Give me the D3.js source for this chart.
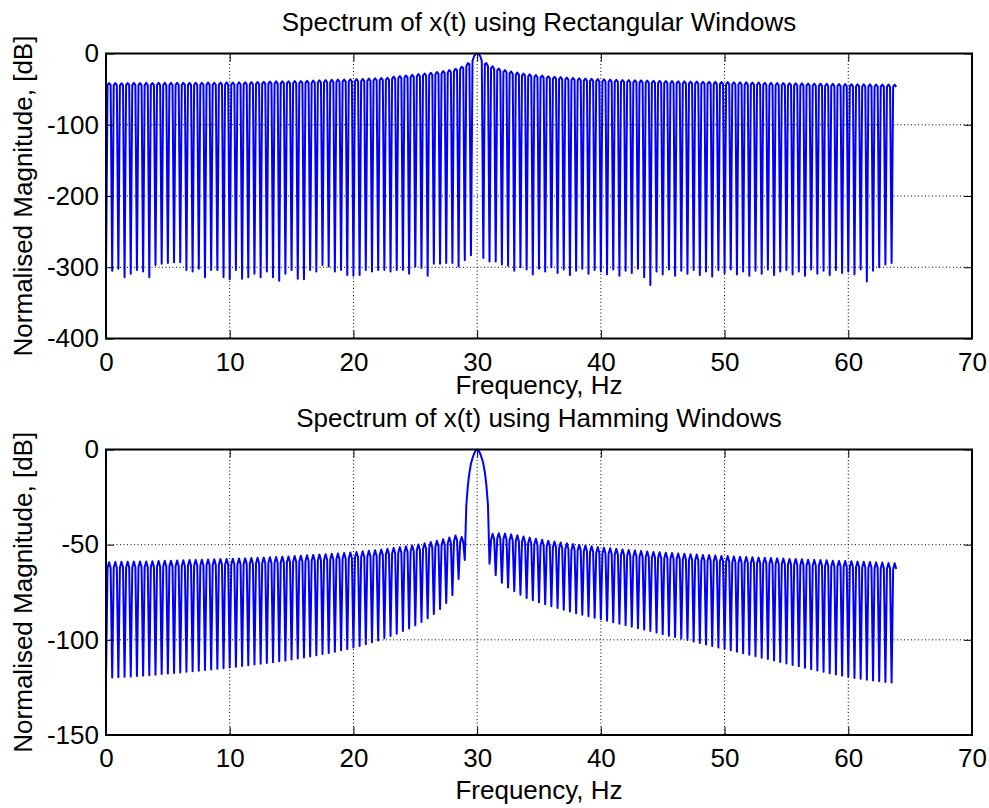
<!DOCTYPE html>
<html>
<head>
<meta charset="utf-8">
<script src="https://cdn.jsdelivr.net/npm/d3@7"></script>
<style>
  body { margin: 0; background: #fff; }
  svg text { font-family: "Liberation Sans", Arial, sans-serif; font-size: 26px; fill: #000; }
</style>
</head>
<body>
<svg id="fig" width="989" height="808"></svg>
<script>
// FFT bin spacing of both spectra (Hz); bin k sits at k * binStepHz
const binStepHz = 0.125;

const xTicks = [0, 10, 20, 30, 40, 50, 60, 70];
const rectYTicks = [0, -100, -200, -300, -400];
const hammYTicks = [0, -50, -100, -150];

const rectTitle = "Spectrum of x(t) using Rectangular Windows";
const hammTitle = "Spectrum of x(t) using Hamming Windows";
const xLabel = "Frequency, Hz";
const yLabel = "Normalised Magnitude,  [dB]";

// Rectangular window spectrum in dB, one value per bin (32 bins = 4 Hz per row)
const rectDb = [
  -311,-44.5,-41.5,-44.5, -305,-44.5,-41.5,-44.5, -302,-44.8,-41.8,-44.8, -314,-44.5,-41.5,-44.5, -309,-44.3,-41.3,-44.3, -304,-44.5,-41.5,-44.5, -306,-44.3,-41.3,-44.3, -314,-44.5,-41.5,-44.5,
  -297,-44.2,-41.2,-44.2, -295,-44.3,-41.3,-44.3, -294,-44.2,-41.2,-44.2, -293,-44.0,-41.0,-44.0, -293,-44.0,-41.0,-44.0, -304,-44.3,-41.3,-44.3, -306,-44.0,-41.0,-44.0, -302,-44.0,-41.0,-44.0,
  -314,-43.8,-40.8,-43.8, -304,-44.0,-41.0,-44.0, -304,-43.8,-40.8,-43.8, -314,-43.6,-40.6,-43.6, -317,-43.7,-40.7,-43.7, -304,-43.5,-40.5,-43.5, -316,-43.3,-40.3,-43.3, -314,-43.2,-40.2,-43.2,
  -309,-43.0,-40.0,-43.0, -314,-42.6,-39.6,-42.6, -306,-42.3,-39.3,-42.3, -314,-42.2,-39.2,-42.2, -319,-42.0,-39.0,-42.0, -309,-41.9,-38.9,-41.9, -304,-41.8,-38.8,-41.8, -316,-41.6,-38.6,-41.6,
  -317,-41.3,-38.3,-41.3, -304,-41.0,-38.0,-41.0, -306,-40.7,-37.7,-40.7, -297,-40.4,-37.4,-40.4, -299,-40.0,-37.0,-40.0, -306,-39.7,-36.7,-39.7, -304,-39.5,-36.5,-39.5, -311,-39.2,-36.2,-39.2,
  -312,-39.0,-36.0,-39.0, -311,-38.7,-35.7,-38.7, -304,-38.3,-35.3,-38.3, -306,-37.8,-34.8,-37.8, -304,-37.4,-34.4,-37.4, -304,-37.0,-34.0,-37.0, -306,-35.5,-32.5,-35.5, -304,-34.8,-31.7,-34.6,
  -304,-33.9,-30.8,-33.7, -309,-33.0,-29.9,-32.8, -299,-32.1,-29.0,-31.9, -301,-31.1,-28.0,-30.9, -312,-30.2,-27.0,-29.9, -295,-29.1,-25.9,-28.8, -295,-28.0,-24.7,-27.6, -294,-26.6,-23.2,-26.1,
  -294,-24.8,-21.4,-23.8, -299,-22.0,-18.5,-20.3, -290,-17.8,-13.5,-14.9, -283,-10.5,-3.9,-0.9, 0,-0.9,-3.9,-10.5, -287,-14.9,-13.5,-17.8, -292,-20.3,-18.0,-21.8, -292,-23.8,-21.0,-24.5,
  -296,-26.1,-23.3,-26.6, -298,-28.0,-25.2,-28.4, -305,-29.6,-26.8,-30.0, -300,-30.9,-28.1,-31.3, -303,-32.0,-29.2,-32.3, -310,-33.0,-30.2,-33.3, -302,-33.9,-31.1,-34.2, -306,-34.8,-31.9,-35.0,
  -300,-35.5,-32.6,-35.7, -308,-36.1,-33.2,-36.3, -303,-36.7,-33.8,-36.9, -311,-37.2,-34.3,-37.4, -305,-37.7,-34.8,-37.9, -302,-38.1,-35.2,-38.3, -309,-38.5,-35.6,-38.7, -304,-38.9,-36.0,-39.1,
  -306,-39.3,-36.3,-39.3, -310,-39.6,-36.6,-39.6, -303,-39.9,-36.9,-39.9, -312,-40.2,-37.2,-40.2, -305,-40.4,-37.4,-40.4, -308,-40.6,-37.6,-40.6, -302,-40.8,-37.8,-40.8, -314,-41.0,-38.0,-41.0,
  -325,-41.2,-38.2,-41.2, -306,-41.4,-38.4,-41.4, -310,-41.6,-38.6,-41.6, -303,-41.8,-38.8,-41.8, -312,-42.0,-39.0,-42.0, -305,-42.1,-39.1,-42.1, -309,-42.3,-39.3,-42.3, -304,-42.4,-39.4,-42.4,
  -311,-42.6,-39.6,-42.6, -306,-42.7,-39.7,-42.7, -313,-42.9,-39.9,-42.9, -304,-43.0,-40.0,-43.0, -308,-43.2,-40.2,-43.2, -303,-43.3,-40.3,-43.3, -310,-43.5,-40.5,-43.5, -306,-43.6,-40.6,-43.6,
  -312,-43.8,-40.8,-43.8, -305,-43.9,-40.9,-43.9, -309,-44.1,-41.1,-44.1, -303,-44.2,-41.2,-44.2, -311,-44.4,-41.4,-44.4, -306,-44.5,-41.5,-44.5, -304,-44.7,-41.7,-44.7, -310,-44.8,-41.8,-44.8,
  -306,-45.0,-42.0,-45.0, -312,-45.1,-42.1,-45.1, -303,-45.3,-42.3,-45.3, -309,-45.4,-42.4,-45.4, -305,-45.6,-42.6,-45.6, -311,-45.7,-42.7,-45.7, -304,-45.9,-42.9,-45.9, -308,-46.0,-43.0,-46.0,
  -306,-46.1,-43.1,-46.1, -310,-46.2,-43.2,-46.2, -303,-46.3,-43.3,-46.3, -320,-46.4,-43.4,-46.4, -305,-46.5,-43.5,-46.5, -300,-46.6,-43.6,-46.6, -296,-46.7,-43.7,-46.7, -294,-46.8,-43.8,-46.8
];

// Hamming window spectrum in dB, same bins
const hammDb = [
  -120.0,-62.2,-59.2,-62.2, -119.8,-62.1,-59.1,-62.1, -119.6,-62.0,-59.0,-62.0, -119.4,-62.0,-59.0,-62.0, -119.2,-61.9,-58.9,-61.9, -119.0,-61.8,-58.8,-61.8, -118.8,-61.8,-58.8,-61.8, -118.6,-61.7,-58.7,-61.7,
  -118.3,-61.6,-58.6,-61.6, -118.0,-61.5,-58.5,-61.5, -117.7,-61.4,-58.4,-61.4, -117.4,-61.3,-58.3,-61.3, -117.1,-61.2,-58.2,-61.2, -116.8,-61.1,-58.1,-61.1, -116.5,-61.0,-58.0,-61.0, -116.2,-60.9,-57.9,-60.9,
  -115.9,-60.8,-57.8,-60.8, -115.6,-60.7,-57.7,-60.7, -115.2,-60.6,-57.6,-60.6, -114.9,-60.5,-57.5,-60.5, -114.5,-60.4,-57.4,-60.4, -114.1,-60.3,-57.3,-60.3, -113.8,-60.2,-57.2,-60.2, -113.4,-60.0,-57.0,-60.0,
  -113.0,-59.9,-56.9,-59.9, -112.6,-59.8,-56.8,-59.8, -112.2,-59.6,-56.6,-59.6, -111.8,-59.5,-56.5,-59.5, -111.3,-59.3,-56.3,-59.3, -110.8,-59.2,-56.2,-59.2, -110.3,-59.0,-56.0,-59.0, -109.8,-58.8,-55.8,-58.8,
  -109.3,-58.6,-55.6,-58.6, -108.7,-58.4,-55.4,-58.4, -108.1,-58.2,-55.2,-58.2, -107.5,-58.0,-55.0,-58.0, -106.9,-57.8,-54.8,-57.8, -106.2,-57.6,-54.6,-57.6, -105.5,-57.4,-54.4,-57.4, -104.8,-57.1,-54.1,-57.1,
  -104.0,-56.8,-53.8,-56.8, -103.2,-56.5,-53.5,-56.5, -102.3,-56.2,-53.2,-56.2, -101.3,-55.9,-52.9,-55.9, -100.3,-55.5,-52.5,-55.5, -99.2,-55.1,-52.1,-55.1, -98.0,-54.7,-51.7,-54.7, -96.8,-54.3,-51.3,-54.3,
  -95.4,-53.9,-50.9,-53.9, -94.0,-53.4,-50.4,-53.4, -92.4,-52.9,-49.9,-52.9, -90.6,-52.3,-49.3,-52.3, -88.6,-51.6,-48.6,-51.6, -86.4,-50.9,-47.9,-50.9, -83.8,-50.2,-47.1,-50.0, -80.6,-49.4,-46.2,-49.0,
  -76.5,-48.4,-45.2,-47.6, -68.0,-48.8,-46.0,-48.6, -58.0,-29.3,-18.9,-12.2, -7.4,-4.6,-2.2,-0.6, 0,-0.6,-2.2,-4.6, -7.4,-12.2,-18.9,-29.3, -60.0,-47.5,-44.3,-47.2, -66.0,-46.8,-44.0,-47.0,
  -70.0,-47.0,-44.2,-47.4, -72.5,-47.4,-44.6,-47.8, -74.5,-47.9,-45.1,-48.3, -76.3,-48.5,-45.7,-48.9, -78.0,-49.1,-46.3,-49.5, -79.2,-49.8,-46.9,-50.1, -80.3,-50.4,-47.4,-50.4, -81.3,-50.9,-47.9,-50.9,
  -82.3,-51.4,-48.4,-51.4, -83.3,-51.9,-48.9,-51.9, -84.2,-52.3,-49.3,-52.3, -85.1,-52.7,-49.7,-52.7, -86.0,-53.1,-50.1,-53.1, -86.8,-53.5,-50.5,-53.5, -87.6,-53.9,-50.9,-53.9, -88.4,-54.3,-51.3,-54.3,
  -89.2,-54.6,-51.6,-54.6, -90.0,-54.9,-51.9,-54.9, -90.8,-55.2,-52.2,-55.2, -91.6,-55.5,-52.5,-55.5, -92.3,-55.8,-52.8,-55.8, -93.1,-56.1,-53.1,-56.1, -93.9,-56.3,-53.3,-56.3, -94.6,-56.6,-53.6,-56.6,
  -95.4,-56.8,-53.8,-56.8, -96.2,-57.0,-54.0,-57.0, -97.0,-57.2,-54.2,-57.2, -97.8,-57.4,-54.4,-57.4, -98.5,-57.6,-54.6,-57.6, -99.3,-57.8,-54.8,-57.8, -100.1,-58.0,-55.0,-58.0, -100.9,-58.2,-55.2,-58.2,
  -101.6,-58.4,-55.4,-58.4, -102.4,-58.5,-55.5,-58.5, -103.2,-58.7,-55.7,-58.7, -104.0,-58.9,-55.9,-58.9, -104.7,-59.0,-56.0,-59.0, -105.5,-59.2,-56.2,-59.2, -106.3,-59.3,-56.3,-59.3, -107.0,-59.5,-56.5,-59.5,
  -107.8,-59.6,-56.6,-59.6, -108.6,-59.8,-56.8,-59.8, -109.4,-59.9,-56.9,-59.9, -110.1,-60.0,-57.0,-60.0, -110.9,-60.2,-57.2,-60.2, -111.7,-60.3,-57.3,-60.3, -112.4,-60.5,-57.5,-60.5, -113.2,-60.6,-57.6,-60.6,
  -113.9,-60.7,-57.7,-60.7, -114.7,-60.9,-57.9,-60.9, -115.4,-61.0,-58.0,-61.0, -116.1,-61.1,-58.1,-61.1, -116.8,-61.2,-58.2,-61.2, -117.5,-61.4,-58.4,-61.4, -118.2,-61.5,-58.5,-61.5, -118.8,-61.6,-58.6,-61.6,
  -119.4,-61.7,-58.7,-61.7, -120.0,-61.9,-58.9,-61.9, -120.5,-62.0,-59.0,-62.0, -121.0,-62.1,-59.1,-62.1, -121.4,-62.3,-59.3,-62.3, -121.8,-62.4,-59.4,-62.4, -122.1,-62.6,-59.6,-62.6, -122.4,-62.8,-59.8,-62.8
];

const svg = d3.select("#fig");
const x = d3.scaleLinear().domain([0, 70]).range([106, 972]);
const plainNum = d => String(d);   // hyphen-minus tick labels

function drawPanel(opts) {
  const { values, yTicks, title, top, bottom, titleY, xLabelY } = opts;
  const y = d3.scaleLinear().domain([d3.min(yTicks), d3.max(yTicks)]).range([bottom, top]);
  const g = svg.append("g");
  const [x0, x1] = x.range();

  // dotted grid
  const grid = g.append("g").attr("stroke", "#000").attr("stroke-width", 1)
    .attr("stroke-dasharray", "1 2.5").attr("fill", "none");
  grid.selectAll(".gx").data(xTicks.slice(1, -1)).join("line")
    .attr("x1", d => x(d)).attr("x2", d => x(d)).attr("y1", top).attr("y2", bottom);
  grid.selectAll(".gy").data(yTicks.slice(1, -1)).join("line")
    .attr("x1", x0).attr("x2", x1).attr("y1", d => y(d)).attr("y2", d => y(d));

  // spectrum trace
  const pts = values.map((v, i) => [i * binStepHz, v]);
  g.append("path").datum(pts)
    .attr("fill", "none").attr("stroke", "#0000ff").attr("stroke-width", 2)
    .attr("stroke-linejoin", "round")
    .attr("d", d3.line().x(d => x(d[0])).y(d => y(d[1])));

  // axes with inward ticks on all four sides
  const tick = 8;
  const ax = (sel) => sel.call(s => s.select(".domain").remove())
    .call(s => s.selectAll(".tick line").attr("stroke", "#000").attr("stroke-width", 1))
    .call(s => s.selectAll("text").attr("fill", "#000").attr("font-size", 26)
      .attr("font-family", '"Liberation Sans", Arial, sans-serif'));

  g.append("g").attr("transform", `translate(0,${bottom})`)
    .call(d3.axisBottom(x).tickValues(xTicks).tickSize(-tick).tickPadding(14).tickFormat(plainNum))
    .call(ax);
  g.append("g").attr("transform", `translate(0,${top})`)
    .call(d3.axisTop(x).tickValues(xTicks).tickSize(-tick).tickFormat(""))
    .call(ax);
  g.append("g").attr("transform", `translate(${x0},0)`)
    .call(d3.axisLeft(y).tickValues(yTicks).tickSize(-tick).tickPadding(7).tickFormat(plainNum))
    .call(ax);
  g.append("g").attr("transform", `translate(${x1},0)`)
    .call(d3.axisRight(y).tickValues(yTicks).tickSize(-tick).tickFormat(""))
    .call(ax);

  // box
  g.append("rect").attr("x", x0).attr("y", top).attr("width", x1 - x0).attr("height", bottom - top)
    .attr("fill", "none").attr("stroke", "#000").attr("stroke-width", 2);

  // labels
  const cx = (x0 + x1) / 2;
  g.append("text").attr("x", cx).attr("y", titleY).attr("text-anchor", "middle").text(title);
  g.append("text").attr("x", cx).attr("y", xLabelY).attr("text-anchor", "middle").text(xLabel);
  g.append("text")
    .attr("transform", `translate(32,${(top + bottom) / 2}) rotate(-90)`)
    .attr("text-anchor", "middle").text(yLabel);
}

drawPanel({ values: rectDb, yTicks: rectYTicks, title: rectTitle,
  top: 53.5, bottom: 338.5, titleY: 31, xLabelY: 394 });
drawPanel({ values: hammDb, yTicks: hammYTicks, title: hammTitle,
  top: 449.5, bottom: 735, titleY: 427, xLabelY: 799 });
</script>
</body>
</html>
